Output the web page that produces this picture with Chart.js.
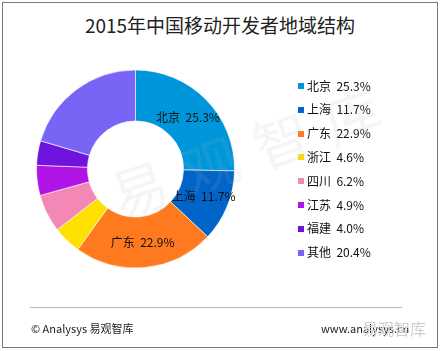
<!DOCTYPE html>
<html>
<head>
<meta charset="utf-8">
<script src="https://cdn.jsdelivr.net/npm/chart.js@4"></script>
<style>
  html, body { margin: 0; padding: 0; background: #fff; }
  #wrap { position: relative; width: 440px; height: 351px; overflow: hidden; font-family: "Noto Sans CJK SC", sans-serif; }
  #frame { position: absolute; left: 2px; top: 2px; width: 434px; height: 344px; border: 1px solid #7a7a7a; }
  #title { position: absolute; left: 0; top: 13px; width: 440px; text-align: center; font-size: 19px; line-height: 24px; color: #222; }
  #rule { position: absolute; left: 30px; top: 307px; width: 372px; height: 1px; background: #b9b9b9; }
  .foot { position: absolute; top: 320px; font-size: 11px; line-height: 16px; color: #222; white-space: nowrap; }
  #mark { position: absolute; left: 362px; top: 317px; font-size: 16px; line-height: 22px; color: #cfcfcf; }
  canvas { position: absolute; left: 0; top: 0; }
</style>
</head>
<body>
<div id="wrap">
  <div id="frame"></div>
  <div id="title">2015年中国移动开发者地域结构</div>
  <canvas id="donutChart" width="440" height="351"></canvas>
  <div id="rule"></div>
  <div class="foot" style="left:31px">© Analysys 易观智库</div>
  <div class="foot" style="left:321px">www.analysys.cn</div>
  <div id="mark">易观智库</div>
</div>
<script>
const regions = ['北京', '上海', '广东', '浙江', '四川', '江苏', '福建', '其他'];
const shares = [25.3, 11.7, 22.9, 4.6, 6.2, 4.9, 4.0, 20.4];
const sliceColors = ['#0096dc', '#0064c8', '#ff7a1e', '#ffe100', '#f387b5', '#b014e6', '#6e14dc', '#7864f5'];
// only these slices carry a label on the ring
const labelledRegions = ['北京', '上海', '广东'];

const fontFamily = '"Noto Sans CJK SC", sans-serif';
const labelText = (i) => regions[i] + '  ' + shares[i].toFixed(1) + '%';

const sliceLabels = {
  id: 'sliceLabels',
  afterDatasetsDraw(chart) {
    const ctx = chart.ctx;
    const meta = chart.getDatasetMeta(0);
    ctx.save();
    ctx.font = '12px ' + fontFamily;
    ctx.fillStyle = '#111';
    ctx.textAlign = 'center';
    ctx.textBaseline = 'middle';
    meta.data.forEach((arc, i) => {
      if (!labelledRegions.includes(regions[i])) return;
      const p = arc.tooltipPosition();
      ctx.fillText(labelText(i), p.x, p.y);
    });
    ctx.restore();
  },
};

// legend on the right, one row per region
const sideLegend = {
  id: 'sideLegend',
  afterDraw(chart) {
    const ctx = chart.ctx;
    ctx.save();
    ctx.font = '12px ' + fontFamily;
    ctx.textBaseline = 'middle';
    regions.forEach((r, i) => {
      const y = 86 + i * 23.8;
      ctx.fillStyle = sliceColors[i];
      ctx.fillRect(298, Math.round(y - 3), 6, 6);
      ctx.fillStyle = '#111';
      ctx.fillText(labelText(i), 307, y);
    });

    // faint watermark
    ctx.translate(246, 153);
    ctx.rotate(-19 * Math.PI / 180);
    ctx.font = '56px ' + fontFamily;
    ctx.fillStyle = 'rgba(180, 180, 180, 0.13)';
    ctx.textAlign = 'center';
    '易观智库'.split('').forEach((ch, i) => {
      ctx.fillText(ch, (i - 1.5) * 75, 0);
    });
    ctx.restore();
  },
};

const donutData = {
  labels: regions,
  datasets: [
    {
      data: shares,
      backgroundColor: sliceColors,
      borderColor: 'rgba(255, 255, 255, 0.6)',
      borderWidth: 1,
    },
  ],
};

const donutConfig = {
  type: 'doughnut',
  data: donutData,
  options: {
    responsive: false,
    animation: false,
    radius: 99,
    cutout: '48.5%',
    layout: {
      padding: { left: 36, right: 205, top: 70, bottom: 83 },
    },
    plugins: {
      legend: { display: false },
      tooltip: { enabled: false },
    },
  },
  plugins: [sliceLabels, sideLegend],
};

let donutChart = new Chart(document.getElementById('donutChart'), donutConfig);
</script>
</body>
</html>
